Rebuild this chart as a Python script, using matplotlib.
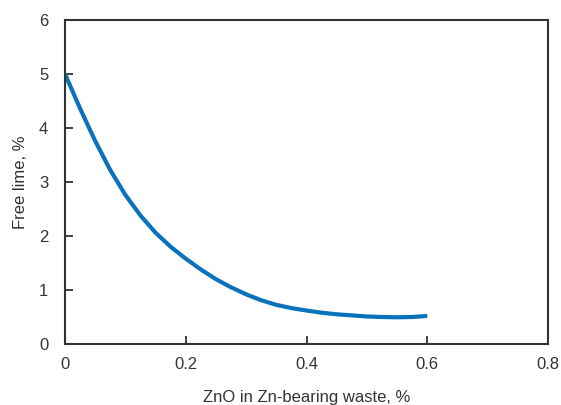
import matplotlib
matplotlib.use("Agg")
import matplotlib.pyplot as plt

zno = [0, 0.025, 0.05, 0.075, 0.1, 0.125, 0.15, 0.175, 0.2, 0.225, 0.25, 0.275,
       0.3, 0.325, 0.35, 0.375, 0.4, 0.425, 0.45, 0.475, 0.5, 0.525, 0.55, 0.575, 0.6]
free_lime = [5.0, 4.36, 3.76, 3.22, 2.76, 2.38, 2.06, 1.8, 1.58, 1.38, 1.2, 1.05,
             0.92, 0.81, 0.725, 0.665, 0.62, 0.58, 0.55, 0.53, 0.51, 0.5, 0.495, 0.5, 0.52]
xticks = [0, 0.2, 0.4, 0.6, 0.8]
xtick_labels = ["0", "0.2", "0.4", "0.6", "0.8"]
yticks = [0, 1, 2, 3, 4, 5, 6]

plt.rcParams['font.family'] = ['Liberation Sans', 'DejaVu Sans']
fig = plt.figure(figsize=(5.61, 4.05), dpi=100)
ax = fig.add_axes([0.1159, 0.1506, 0.8609, 0.8])
ax.plot(zno, free_lime, color="#0a72bd", lw=3.0, solid_capstyle="butt",
        solid_joinstyle="round")
ax.set_xlim(0, 0.8)
ax.set_ylim(0, 6)
ax.set_xticks(xticks)
ax.set_xticklabels(xtick_labels)
ax.set_yticks(yticks)
ax.tick_params(direction="in", length=5.5, width=1.3, color="#333333",
               labelsize=12, labelcolor="#333333")
ax.tick_params(axis="y", pad=12)
ax.tick_params(axis="x", pad=9)
for s in ax.spines.values():
    s.set_linewidth(1.5)
    s.set_color("#333333")
ax.set_xlabel("ZnO in Zn-bearing waste, %", fontsize=12, color="#333333", labelpad=13)
ax.set_ylabel("Free lime, %", fontsize=12, color="#333333", labelpad=8)
fig.savefig("out.png", dpi=100)
